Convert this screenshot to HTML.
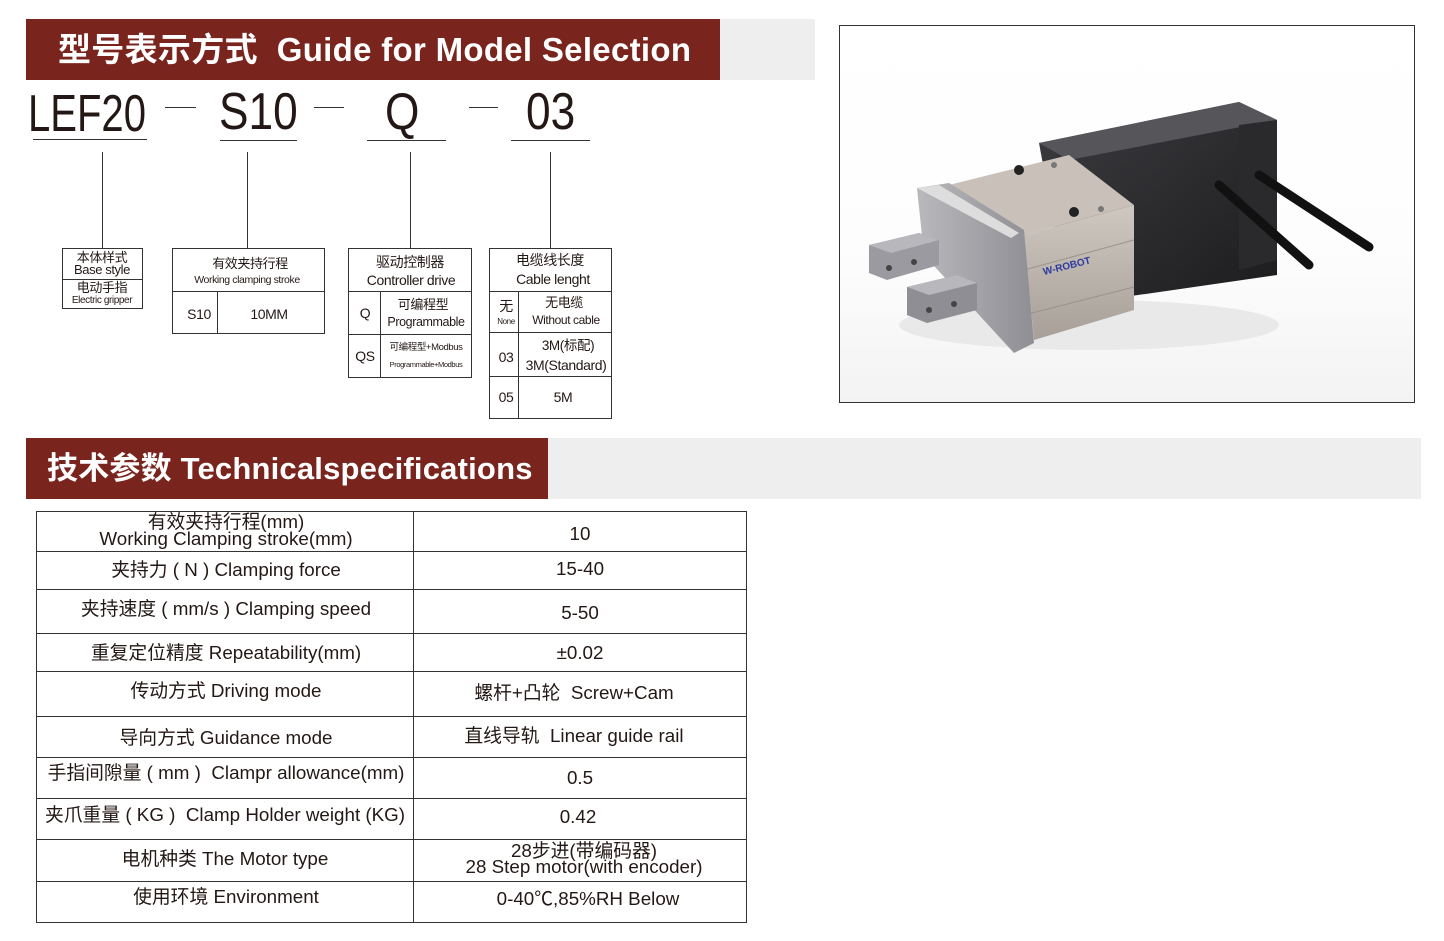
<!DOCTYPE html>
<html><head><meta charset="utf-8"><style>
*{margin:0;padding:0;box-sizing:border-box}
body{width:1444px;height:941px;position:relative;background:#fff;font-family:"Liberation Sans","Noto Sans CJK SC",sans-serif;color:#231815;overflow:hidden}
.a{position:absolute}
.ln{position:absolute;background:#333}
.bx{position:absolute;border:1px solid #333}
.c{position:absolute;transform:translateX(-50%);white-space:nowrap;line-height:1;letter-spacing:-0.4px}
.tb{font-size:18.8px!important;letter-spacing:0px}
</style></head><body>
<div class="a" style="left:720px;top:19px;width:95px;height:61px;background:#eeeeee"></div>
<div class="a" style="left:26px;top:19px;width:694px;height:61px;background:#7a241e"></div>
<div class="a" style="left:58px;top:30px;color:#fff;font-size:33px;font-weight:bold;line-height:40px;white-space:nowrap;letter-spacing:0.3px">型号表示方式&nbsp; Guide for Model Selection</div>

<div class="a" style="left:28px;top:86px;font-size:52px;line-height:56px;transform:scaleX(0.77);transform-origin:left;white-space:nowrap">LEF20</div>
<div class="a" style="left:219px;top:84px;font-size:52px;line-height:56px;transform:scaleX(0.85);transform-origin:left">S10</div>
<div class="a" style="left:385px;top:84px;font-size:52px;line-height:56px;transform:scaleX(0.85);transform-origin:left">Q</div>
<div class="a" style="left:526px;top:84px;font-size:52px;line-height:56px;transform:scaleX(0.85);transform-origin:left">03</div>
<div class="ln" style="left:165px;top:107px;width:31px;height:1px"></div>
<div class="ln" style="left:314px;top:107px;width:30px;height:1px"></div>
<div class="ln" style="left:469px;top:107px;width:29px;height:1px"></div>
<div class="ln" style="left:33px;top:139px;width:114px;height:1px"></div>
<div class="ln" style="left:220px;top:140px;width:77px;height:1px"></div>
<div class="ln" style="left:367px;top:140px;width:79px;height:1px"></div>
<div class="ln" style="left:511px;top:140px;width:79px;height:1px"></div>
<div class="ln" style="left:102px;top:152px;width:1px;height:96px"></div>
<div class="ln" style="left:247px;top:152px;width:1px;height:96px"></div>
<div class="ln" style="left:410px;top:152px;width:1px;height:96px"></div>
<div class="ln" style="left:550px;top:152px;width:1px;height:96px"></div>

<div class="bx" style="left:62px;top:248px;width:81px;height:61px"></div>
<div class="ln" style="left:62px;top:279px;width:81px;height:1px"></div>
<div class="c" style="left:102px;top:251px;font-size:13px">本体样式</div>
<div class="c" style="left:102px;top:263px;font-size:13px">Base style</div>
<div class="c" style="left:102px;top:281px;font-size:13px">电动手指</div>
<div class="c" style="left:102px;top:296px;font-size:10px">Electric gripper</div>

<div class="bx" style="left:172px;top:248px;width:153px;height:86px"></div>
<div class="ln" style="left:172px;top:291px;width:153px;height:1px"></div>
<div class="ln" style="left:217px;top:291px;width:1px;height:42px"></div>
<div class="c" style="left:250px;top:257px;font-size:13px">有效夹持行程</div>
<div class="c" style="left:247px;top:275px;font-size:10.5px">Working clamping stroke</div>
<div class="c" style="left:199px;top:307px;font-size:14px">S10</div>
<div class="c" style="left:269px;top:307px;font-size:14px">10MM</div>

<div class="bx" style="left:348px;top:248px;width:124px;height:130px"></div>
<div class="ln" style="left:348px;top:291px;width:124px;height:1px"></div>
<div class="ln" style="left:348px;top:334px;width:124px;height:1px"></div>
<div class="ln" style="left:380px;top:291px;width:1px;height:86px"></div>
<div class="c" style="left:410px;top:255px;font-size:14px">驱动控制器</div>
<div class="c" style="left:411px;top:273px;font-size:14px">Controller drive</div>
<div class="c" style="left:365px;top:306px;font-size:14px">Q</div>
<div class="c" style="left:423px;top:298px;font-size:13px">可编程型</div>
<div class="c" style="left:426px;top:316px;font-size:12.5px">Programmable</div>
<div class="c" style="left:365px;top:349px;font-size:14px">QS</div>
<div class="c" style="left:426px;top:343px;font-size:9.5px">可编程型+Modbus</div>
<div class="c" style="left:426px;top:361px;font-size:7.5px">Programmable+Modbus</div>

<div class="bx" style="left:489px;top:248px;width:123px;height:171px"></div>
<div class="ln" style="left:489px;top:291px;width:123px;height:1px"></div>
<div class="ln" style="left:489px;top:332px;width:123px;height:1px"></div>
<div class="ln" style="left:489px;top:376px;width:123px;height:1px"></div>
<div class="ln" style="left:518px;top:291px;width:1px;height:127px"></div>
<div class="c" style="left:550px;top:253px;font-size:14px">电缆线长度</div>
<div class="c" style="left:553px;top:272px;font-size:14px">Cable lenght</div>
<div class="c" style="left:506px;top:299px;font-size:14px">无</div>
<div class="c" style="left:506px;top:318px;font-size:8px">None</div>
<div class="c" style="left:564px;top:296px;font-size:13px">无电缆</div>
<div class="c" style="left:566px;top:314px;font-size:12px">Without cable</div>
<div class="c" style="left:506px;top:350px;font-size:14px">03</div>
<div class="c" style="left:568px;top:339px;font-size:13.5px">3M(标配)</div>
<div class="c" style="left:566px;top:358px;font-size:14px">3M(Standard)</div>
<div class="c" style="left:506px;top:390px;font-size:14px">05</div>
<div class="c" style="left:563px;top:390px;font-size:14px">5M</div>

<div class="a" style="left:839px;top:25px;width:576px;height:378px;border:1.5px solid #333;background:linear-gradient(180deg,#fff 0%,#fdfdfd 60%,#f3f3f3 100%)"></div>
<svg class="a" style="left:839px;top:25px" width="576" height="378" viewBox="0 0 576 378">
<defs>
<linearGradient id="m" x1="0" y1="0" x2="1" y2="1"><stop offset="0" stop-color="#3c3c40"/><stop offset="1" stop-color="#1c1c1e"/></linearGradient>
<linearGradient id="s" x1="0" y1="0" x2="0" y2="1"><stop offset="0" stop-color="#cfc8c0"/><stop offset="1" stop-color="#a79f98"/></linearGradient>
<linearGradient id="f" x1="0" y1="0" x2="1" y2="0"><stop offset="0" stop-color="#b9b9bd"/><stop offset="1" stop-color="#8e8e94"/></linearGradient>
</defs>
<ellipse cx="250" cy="300" rx="190" ry="25" fill="#e9e9e9"/>
<polygon points="200,118 400,77 438,95 438,250 230,280" fill="url(#m)"/>
<polygon points="200,118 400,77 438,95 230,135" fill="#55555a"/>
<polygon points="400,100 438,95 438,235 400,245" fill="#2a2a2d"/>
<line x1="380" y1="160" x2="470" y2="240" stroke="#111" stroke-width="9" stroke-linecap="round"/>
<line x1="420" y1="150" x2="530" y2="222" stroke="#111" stroke-width="9" stroke-linecap="round"/>
<polygon points="110,160 230,130 295,180 185,210" fill="#c8c0b9"/>
<polygon points="185,210 295,180 295,285 195,315" fill="url(#s)"/>
<line x1="185" y1="245" x2="295" y2="215" stroke="#9a928c"/>
<line x1="185" y1="290" x2="295" y2="262" stroke="#9a928c"/>
<text x="205" y="250" font-family="Liberation Sans,sans-serif" font-size="10" font-weight="bold" fill="#2c3aa0" transform="rotate(-14 205 250)">W-ROBOT</text>
<circle cx="180" cy="145" r="5" fill="#222"/><circle cx="235" cy="187" r="5" fill="#222"/>
<circle cx="215" cy="140" r="3" fill="#777"/><circle cx="262" cy="184" r="3" fill="#777"/>
<polygon points="78,163 110,158 185,205 195,318 175,328 85,230" fill="url(#f)"/>
<polygon points="78,163 100,160 180,208 172,213" fill="#ddd"/>
<polygon points="30,220 80,208 100,215 100,240 48,255 30,248" fill="#9a9aa0"/>
<polygon points="30,220 80,208 100,215 52,228" fill="#b8b8bc"/>
<polygon points="68,262 118,250 138,258 138,285 88,298 68,290" fill="#8e8e94"/>
<polygon points="68,262 118,250 138,258 90,270" fill="#b8b8bc"/>
<circle cx="50" cy="243" r="3" fill="#444"/><circle cx="75" cy="237" r="3" fill="#444"/>
<circle cx="90" cy="285" r="3" fill="#444"/><circle cx="115" cy="279" r="3" fill="#444"/>
</svg>

<div class="a" style="left:548px;top:438px;width:873px;height:61px;background:#eeeeee"></div>
<div class="a" style="left:26px;top:438px;width:522px;height:61px;background:#7a241e"></div>
<div class="a" style="left:47px;top:449px;color:#fff;font-size:31px;font-weight:bold;line-height:40px;white-space:nowrap;letter-spacing:0.2px">技术参数 Technicalspecifications</div>

<div class="bx" style="left:36px;top:511px;width:711px;height:412px;border-width:1px"></div>
<div class="ln" style="left:413px;top:511px;width:1px;height:411px"></div>
<div class="ln" style="left:36px;top:551px;width:711px;height:1px"></div>
<div class="ln" style="left:36px;top:589px;width:711px;height:1px"></div>
<div class="ln" style="left:36px;top:633px;width:711px;height:1px"></div>
<div class="ln" style="left:36px;top:671px;width:711px;height:1px"></div>
<div class="ln" style="left:36px;top:716px;width:711px;height:1px"></div>
<div class="ln" style="left:36px;top:757px;width:711px;height:1px"></div>
<div class="ln" style="left:36px;top:798px;width:711px;height:1px"></div>
<div class="ln" style="left:36px;top:839px;width:711px;height:1px"></div>
<div class="ln" style="left:36px;top:881px;width:711px;height:1px"></div>

<div class="c tb" style="left:226px;top:513px">有效夹持行程(mm)</div>
<div class="c tb" style="left:226px;top:530px">Working Clamping stroke(mm)</div>
<div class="c tb" style="left:580px;top:525px">10</div>
<div class="c tb" style="left:226px;top:561px">夹持力 ( N ) Clamping force</div>
<div class="c tb" style="left:580px;top:560px">15-40</div>
<div class="c tb" style="left:226px;top:600px">夹持速度 ( mm/s ) Clamping speed</div>
<div class="c tb" style="left:580px;top:604px">5-50</div>
<div class="c tb" style="left:226px;top:644px">重复定位精度 Repeatability(mm)</div>
<div class="c tb" style="left:580px;top:644px">±0.02</div>
<div class="c tb" style="left:226px;top:682px">传动方式 Driving mode</div>
<div class="c tb" style="left:574px;top:684px">螺杆+凸轮&nbsp; Screw+Cam</div>
<div class="c tb" style="left:226px;top:729px">导向方式 Guidance mode</div>
<div class="c tb" style="left:574px;top:727px">直线导轨&nbsp; Linear guide rail</div>
<div class="c tb" style="left:226px;top:764px">手指间隙量 ( mm )&nbsp; Clampr allowance(mm)</div>
<div class="c tb" style="left:580px;top:769px">0.5</div>
<div class="c tb" style="left:225px;top:806px">夹爪重量 ( KG )&nbsp; Clamp Holder weight (KG)</div>
<div class="c tb" style="left:578px;top:808px">0.42</div>
<div class="c tb" style="left:225px;top:850px">电机种类 The Motor type</div>
<div class="c tb" style="left:584px;top:842px">28步进(带编码器)</div>
<div class="c tb" style="left:584px;top:858px">28 Step motor(with encoder)</div>
<div class="c tb" style="left:226px;top:888px">使用环境 Environment</div>
<div class="c tb" style="left:588px;top:890px">0-40℃,85%RH Below</div>
</body></html>
